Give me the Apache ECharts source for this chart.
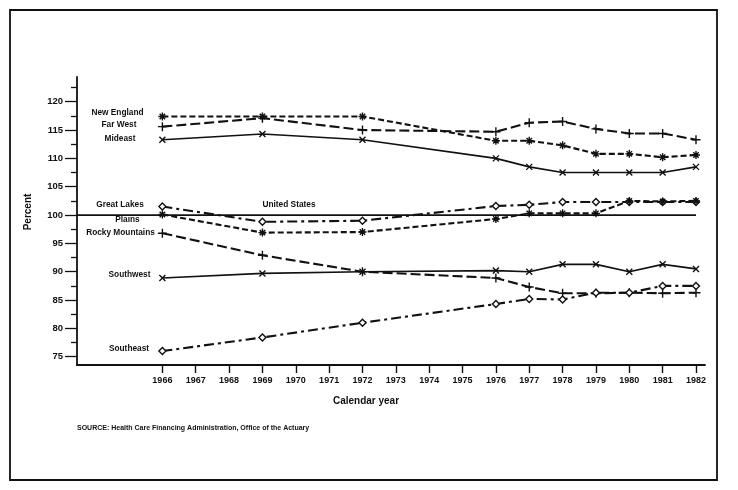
<!DOCTYPE html>
<html>
<head>
<meta charset="utf-8">
<script src="https://cdn.jsdelivr.net/npm/echarts@6/dist/echarts.min.js"></script>
<style>
html,body{margin:0;padding:0;background:#fff;}
#chart{width:738px;height:490px;}
</style>
</head>
<body>
<div id="chart"></div>
<script>
// ---- data ----
var years = [1966, 1969, 1972, 1976, 1977, 1978, 1979, 1980, 1981, 1982];
var newEngland = [117.4, 117.4, 117.4, 113.1, 113.1, 112.3, 110.8, 110.8, 110.2, 110.6];
var farWest    = [115.6, 117.1, 115.0, 114.7, 116.3, 116.5, 115.2, 114.4, 114.4, 113.3];
var mideast    = [113.3, 114.3, 113.3, 110.0, 108.5, 107.5, 107.5, 107.5, 107.5, 108.5];
var greatLakes = [101.5, 98.8, 99.0, 101.6, 101.8, 102.3, 102.3, 102.3, 102.3, 102.3];
var plains     = [100.1, 96.9, 97.0, 99.3, 100.3, 100.3, 100.3, 102.5, 102.4, 102.5];
var rockyMtns  = [96.8, 92.9, 90.0, 88.9, 87.3, 86.2, 86.2, 86.3, 86.2, 86.3];
var southwest  = [88.9, 89.7, 90.0, 90.2, 90.0, 91.3, 91.3, 90.0, 91.3, 90.5];
var southeast  = [76.0, 78.4, 81.0, 84.3, 85.2, 85.1, 86.3, 86.3, 87.5, 87.5];
var unitedStates = 100;
var xTickYears = [1966,1967,1968,1969,1970,1971,1972,1973,1974,1975,1976,1977,1978,1979,1980,1981,1982];
var yMajorTicks = [75, 80, 85, 90, 95, 100, 105, 110, 115, 120];
var yMinorTicks = [77.5, 82.5, 87.5, 92.5, 97.5, 102.5, 107.5, 112.5, 117.5, 122.5];

var xMin = 1963.44, xMax = 1982.27;
var yMin = 73.54, yMax = 124.36;

function pairs(vals){ return years.map(function(y,i){ return [y, vals[i]]; }); }

var SYM_PLUS = 'path://M5,0L5,10M0,5L10,5';
var SYM_X = 'path://M0,0L10,10M10,0L0,10';
var SYM_AST = 'path://M5,0L5,10M0,5L10,5M1.6,1.6L8.4,8.4M8.4,1.6L1.6,8.4';

function lineSeries(name, vals, dash, width, symbol, size, hollow){
  return {
    name: name, type: 'line', data: pairs(vals), xAxisIndex: 0, yAxisIndex: 0,
    symbol: symbol, symbolSize: size, showAllSymbol: true, animation: false,
    lineStyle: {color: '#111', width: width, type: dash},
    itemStyle: {color: hollow ? '#fff' : '#111', borderColor: '#111', borderWidth: 1.4},
    z: 3
  };
}

var FONT = '"Liberation Sans", Arial, Helvetica, sans-serif';
function txt(t, x, y, size, align, rot){
  return {
    type: 'text', x: x, y: y, rotation: rot || 0, z: 10,
    style: {text: t, fill: '#111', font: 'bold ' + size + 'px ' + FONT,
            textAlign: align || 'center', textVerticalAlign: 'middle'}
  };
}

var chart = echarts.init(document.getElementById('chart'), null, {renderer: 'canvas'});
chart.setOption({
  backgroundColor: '#fff',
  animation: false,
  grid: {left: 77, right: 33, top: 77, bottom: 125, containLabel: false},
  xAxis: [{
    type: 'value', min: xMin, max: xMax,
    axisLine: {show: true, lineStyle: {color: '#111', width: 1.8}},
    axisTick: {show: true, inside: false, length: 8, customValues: xTickYears, lineStyle: {color: '#111', width: 1.4}},
    axisLabel: {show: true, margin: 11, customValues: xTickYears, color: '#111',
                fontFamily: FONT, fontWeight: 'bold', fontSize: 9,
                formatter: function(v){ return String(v); }},
    splitLine: {show: false}
  }],
  yAxis: [{
    type: 'value', min: yMin, max: yMax,
    axisLine: {show: true, lineStyle: {color: '#111', width: 1.8}},
    axisTick: {show: true, inside: false, length: 12, customValues: yMajorTicks, lineStyle: {color: '#111', width: 1.3}},
    axisLabel: {show: true, margin: 14, customValues: yMajorTicks, color: '#111',
                fontFamily: FONT, fontWeight: 'bold', fontSize: 9.5},
    splitLine: {show: false}
  }, {
    type: 'value', min: yMin, max: yMax, position: 'left',
    axisLine: {show: false},
    axisTick: {show: true, inside: false, length: 6, customValues: yMinorTicks, lineStyle: {color: '#111', width: 1.3}},
    axisLabel: {show: false},
    splitLine: {show: false}
  }],
  series: [
    {
      name: 'United States', type: 'line', symbol: 'none', animation: false,
      data: [[xMin, unitedStates], [years[years.length - 1], unitedStates]],
      lineStyle: {color: '#111', width: 1.7, type: 'solid'}, z: 2
    },
    lineSeries('New England', newEngland, [6, 3], 2.1, SYM_AST, 8, false),
    lineSeries('Far West', farWest, [10, 4], 2.1, SYM_PLUS, 9, false),
    lineSeries('Mideast', mideast, 'solid', 1.6, SYM_X, 6, false),
    lineSeries('Great Lakes', greatLakes, [10, 4, 3, 4], 2.1, 'diamond', 7, true),
    lineSeries('Plains', plains, [6, 3], 2.1, SYM_AST, 8, false),
    lineSeries('Rocky Mountains', rockyMtns, [10, 4], 2.1, SYM_PLUS, 9, false),
    lineSeries('Southwest', southwest, 'solid', 1.6, SYM_X, 6, false),
    lineSeries('Southeast', southeast, [10, 4, 3, 4], 2.1, 'diamond', 7, true)
  ],
  graphic: [
    {type: 'rect', shape: {x: 10, y: 10, width: 707, height: 470},
     style: {fill: 'none', stroke: '#111', lineWidth: 1.8}, z: 1},
    txt('New England', 117.5, 112.5, 8.3),
    txt('Far West', 119, 125, 8.3),
    txt('Mideast', 120, 138.3, 8.3),
    txt('Great Lakes', 120, 205, 8.3),
    txt('Plains', 127.5, 220, 8.3),
    txt('Rocky Mountains', 120.5, 232.3, 8.3),
    txt('Southwest', 129.5, 275, 8.3),
    txt('Southeast', 129, 348.3, 8.3),
    txt('United States', 289, 205, 8.3),
    txt('Calendar year', 366, 401, 10),
    txt('Percent', 28, 212, 10, 'center', Math.PI / 2),
    txt('SOURCE: Health Care Financing Administration, Office of the Actuary', 77, 428.5, 7, 'left')
  ]
});
</script>
</body>
</html>
